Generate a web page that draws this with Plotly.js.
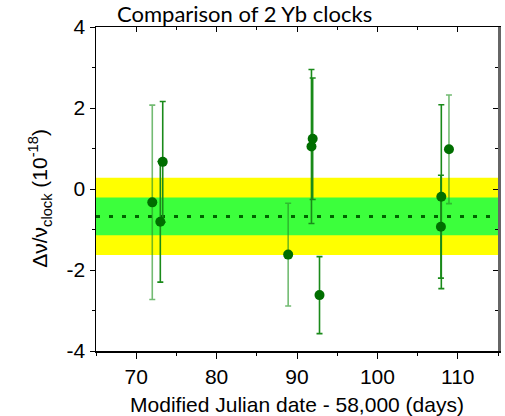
<!DOCTYPE html>
<html>
<head>
<meta charset="utf-8">
<script src="https://cdn.plot.ly/plotly-3.0.1.min.js"></script>
<style>html,body{margin:0;padding:0;background:#fff;}#chart{width:505px;height:416px;}</style>
</head>
<body>
<div id="chart"></div>
<script>
// Data
const lightX = [72.0, 88.9, 108.9];
const lightY = [-0.33, -1.62, 0.98];
const lightErr = [2.40, 1.27, 1.34];

const darkX = [73.0, 73.3, 92.8, 91.8, 91.95, 107.95, 107.9];
const darkY = [-0.81, 0.67, -2.62, 1.05, 1.24, -0.19, -0.93];
const darkErr = [1.49, 1.49, 0.95, 1.90, 1.50, 2.27, 1.27];

const meanValue = -0.68;
const innerBand = [-1.14, -0.21];
const outerBand = [-1.63, 0.28];

const xRange = [65, 115];
const yRange = [-4, 4];
const xTickVals = [70, 80, 90, 100, 110];
const yTickVals = [-4, -2, 0, 2, 4];

const markerColor = '#006e00';
const fontFam = 'Arial';

const traces = [
  {
    x: xRange, y: [meanValue, meanValue], mode: 'lines', type: 'scatter',
    line: {color: '#006400', width: 3, dash: '4px,9px'}, hoverinfo: 'skip', showlegend: false
  },
  {
    x: lightX, y: lightY, mode: 'markers', type: 'scatter',
    marker: {color: markerColor, size: 10},
    error_y: {type: 'data', array: lightErr, visible: true, color: 'rgba(40,150,40,0.65)', thickness: 1.6, width: 3},
    showlegend: false
  },
  {
    x: darkX, y: darkY, mode: 'markers', type: 'scatter',
    marker: {color: markerColor, size: 10},
    error_y: {type: 'data', array: darkErr, visible: true, color: '#1a8a1a', thickness: 1.6, width: 3},
    showlegend: false
  },
  {
    x: xRange, y: yRange, xaxis: 'x2', yaxis: 'y2', mode: 'markers', type: 'scatter',
    marker: {opacity: 0}, hoverinfo: 'skip', showlegend: false
  }
];

const layout = {
  width: 505, height: 416,
  margin: {l: 96, r: 7, t: 27, b: 65},
  paper_bgcolor: '#fff', plot_bgcolor: '#fff',
  font: {family: fontFam, color: '#000'},
  showlegend: false,
  title: {
    text: 'Comparison of 2 Yb clocks',
    font: {family: 'Lato', size: 22, color: '#000'},
    x: 117 / 505, xanchor: 'left', xref: 'container',
    y: 1, yref: 'container', yanchor: 'top', pad: {t: 7}
  },
  xaxis: {
    range: xRange, tickvals: xTickVals, ticktext: xTickVals.map(String),
    ticks: 'outside', ticklen: 6, tickwidth: 1, tickcolor: '#000',
    minor: {ticks: 'outside', ticklen: 3, dtick: 5, tick0: 65, tickcolor: '#000', showgrid: false},
    showline: true, linecolor: '#000', linewidth: 1.5,
    showgrid: false, zeroline: false,
    tickfont: {size: 21, family: fontFam},
    title: {text: 'Modified Julian date - 58,000 (days)', font: {size: 21, family: fontFam}, standoff: 10}
  },
  yaxis: {
    range: yRange, tickvals: yTickVals, ticktext: yTickVals.map(String),
    ticks: 'outside', ticklen: 5, tickwidth: 1, tickcolor: '#000',
    minor: {ticks: 'outside', ticklen: 3, dtick: 1, tick0: -4, tickcolor: '#000', showgrid: false},
    showline: true, linecolor: '#000', linewidth: 1.5,
    showgrid: false, zeroline: false,
    tickfont: {size: 21, family: fontFam}
  },
  xaxis2: {
    range: xRange, overlaying: 'x', side: 'top', anchor: 'y2',
    tickvals: xTickVals, showticklabels: false,
    ticks: 'inside', ticklen: 5, tickcolor: '#000',
    minor: {ticks: 'inside', ticklen: 3, dtick: 5, tick0: 65, tickcolor: '#000', showgrid: false},
    showline: true, linecolor: '#000', linewidth: 1.5,
    showgrid: false, zeroline: false
  },
  yaxis2: {
    range: yRange, overlaying: 'y', side: 'right', anchor: 'x2',
    tickvals: yTickVals, showticklabels: false,
    ticks: 'inside', ticklen: 5, tickcolor: '#000',
    minor: {ticks: 'inside', ticklen: 3, dtick: 1, tick0: -4, tickcolor: '#000', showgrid: false},
    showline: true, linecolor: '#666', linewidth: 2.5,
    showgrid: false, zeroline: false
  },
  shapes: [
    {type: 'rect', xref: 'x domain', yref: 'y', x0: 0, x1: 1, y0: outerBand[0], y1: outerBand[1],
     fillcolor: '#ffff00', line: {width: 0}, layer: 'below'},
    {type: 'rect', xref: 'x domain', yref: 'y', x0: 0, x1: 1, y0: innerBand[0], y1: innerBand[1],
     fillcolor: '#3cff3c', line: {width: 0}, layer: 'below'}
  ],
  annotations: [
    {
      text: '\u0394\u03bd/\u03bd<sub>clock</sub> (10<sup>-18</sup>)',
      xref: 'paper', yref: 'paper', x: -0.139, y: 0.47,
      xanchor: 'center', yanchor: 'middle', textangle: -90, showarrow: false,
      font: {size: 21, family: fontFam, color: '#000'}
    }
  ]
};

Plotly.newPlot('chart', traces, layout, {displayModeBar: false, staticPlot: true});
</script>
</body>
</html>
